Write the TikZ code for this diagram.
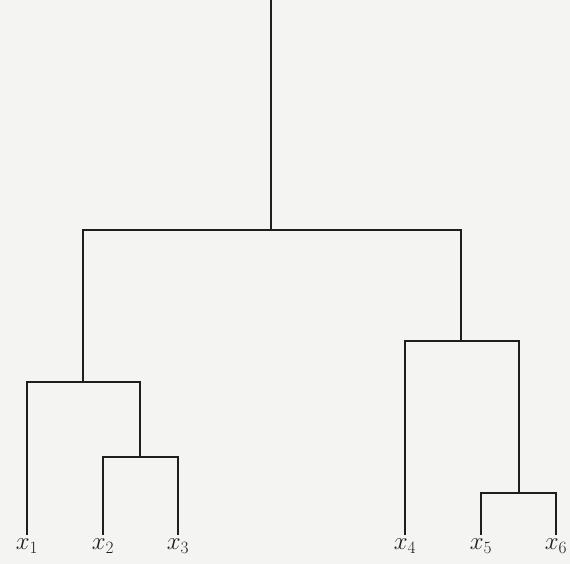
\documentclass[tikz,border=0pt]{standalone}
\usepackage{amsmath}
\definecolor{paper}{RGB}{244,244,242}
\definecolor{ink}{RGB}{30,30,30}
\tikzset{
  branch/.style={draw=ink, line width=2pt, line cap=rect},
  leaflabel/.style={anchor=north, inner sep=0pt, font=\fontsize{27}{32}\selectfont, text=ink}
}
\begin{document}
\begin{tikzpicture}[x=1pt, y=-1pt]
\fill[paper] (0,0) rectangle (570,564);
\useasboundingbox (0,0) rectangle (570,564);
% leaves
\coordinate (l1) at (27,534);
\coordinate (l2) at (103,534);
\coordinate (l3) at (178,534);
\coordinate (l4) at (405,534);
\coordinate (l5) at (481,534);
\coordinate (l6) at (556,534);
% merges
\coordinate (m23) at (140,457);
\coordinate (m123) at (83,382);
\coordinate (m56) at (519,493);
\coordinate (m456) at (461,341);
\coordinate (root) at (271,230);
\coordinate (top) at (271,-2);
% branches
\draw[branch] (l2) |- (m23) -| (l3);
\draw[branch] (l1) |- (m123) -| (m23);
\draw[branch] (l5) |- (m56) -| (l6);
\draw[branch] (l4) |- (m456) -| (m56);
\draw[branch] (m123) |- (root) -| (m456);
\draw[branch] (root) -- (top);
% labels
\node[leaflabel] (t1) at ([yshift=-5pt]l1) {$x_1$};
\node[leaflabel] (t2) at ([yshift=-5pt]l2) {$x_2$};
\node[leaflabel] (t3) at ([yshift=-5pt]l3) {$x_3$};
\node[leaflabel] (t4) at ([yshift=-5pt]l4) {$x_4$};
\node[leaflabel] (t5) at ([yshift=-5pt]l5) {$x_5$};
\node[leaflabel] (t6) at ([yshift=-5pt]l6) {$x_6$};
\end{tikzpicture}
\end{document}
